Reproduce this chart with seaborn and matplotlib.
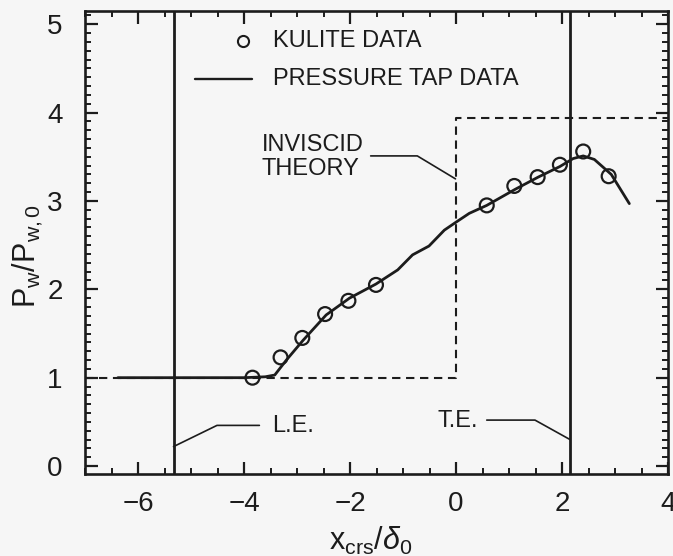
import matplotlib
matplotlib.use("Agg")
import matplotlib.pyplot as plt
from matplotlib.ticker import MultipleLocator
import seaborn as sns
import pandas as pd

# Kulite transducer readings
kulite_x = [-3.84, -3.31, -2.90, -2.47, -2.03, -1.51, 0.58, 1.10, 1.54, 1.96, 2.40, 2.88]
kulite_y = [1.00, 1.23, 1.45, 1.72, 1.87, 2.05, 2.95, 3.17, 3.27, 3.41, 3.56, 3.28]

# Pressure tap distribution
tap_x = [-6.38, -5.0, -4.0, -3.6, -3.42, -3.2, -2.89, -2.45, -2.01, -1.51, -1.1, -0.82,
         -0.51, -0.22, 0.0, 0.25, 0.58, 1.11, 1.55, 1.96, 2.21, 2.40, 2.61, 2.93, 3.27]
tap_y = [1.0, 1.0, 1.0, 1.01, 1.03, 1.2, 1.42, 1.71, 1.9, 2.06, 2.22, 2.39,
         2.49, 2.67, 2.76, 2.86, 2.95, 3.13, 3.27, 3.39, 3.48, 3.51, 3.47, 3.30, 2.97]

# Inviscid step
theory_x = [-7.0, 0.0, 0.0, 4.0]
theory_y = [1.0, 1.0, 3.94, 3.94]

# Leading / trailing edge stations
le_x = -5.33
te_x = 2.15

x_ticks = [-6, -4, -2, 0, 2, 4]
y_ticks = [0, 1, 2, 3, 4, 5]

sns.set_theme(style="ticks")
ink = "#1c1c1c"
plt.rcParams["font.family"] = ["Liberation Sans", "DejaVu Sans"]
plt.rcParams["mathtext.fontset"] = "custom"
plt.rcParams["mathtext.rm"] = "Liberation Sans"
plt.rcParams["mathtext.it"] = "Liberation Sans:italic"

fig = plt.figure(figsize=(6.73, 5.56), dpi=100, facecolor="#f6f6f6")
ax = fig.add_axes([0.1263, 0.1475, 0.8663, 0.8327])
ax.set_facecolor("#f6f6f6")

tap = pd.DataFrame({"x": tap_x, "y": tap_y})
kul = pd.DataFrame({"x": kulite_x, "y": kulite_y})
theo = pd.DataFrame({"x": theory_x, "y": theory_y})

sns.lineplot(data=theo, x="x", y="y", ax=ax, estimator=None, sort=False,
             color=ink, lw=1.5, linestyle=(0, (4.0, 2.7)))
sns.lineplot(data=tap, x="x", y="y", ax=ax, estimator=None, sort=False,
             color=ink, lw=2.0)
sns.scatterplot(data=kul, x="x", y="y", ax=ax, marker="o", s=100,
                facecolor="none", edgecolor=ink, linewidth=1.6, zorder=5)

ax.axvline(le_x, color=ink, lw=2.0)
ax.axvline(te_x, color=ink, lw=2.0)

ax.set_xlim(-7, 3.97)
ax.set_ylim(-0.09, 5.15)
ax.set_xticks(x_ticks)
ax.set_yticks(y_ticks)
ax.set_xticklabels([str(v).replace("-", "\u2212") for v in x_ticks])
ax.xaxis.set_minor_locator(MultipleLocator(0.5))
ax.yaxis.set_minor_locator(MultipleLocator(0.1))
ax.tick_params(which="major", direction="in", length=9, width=1.6, color=ink,
               top=True, right=True, labelsize=20, labelcolor=ink)
ax.tick_params(axis="x", which="major", pad=12)
ax.tick_params(axis="y", which="major", pad=16)
ax.tick_params(which="minor", direction="in", length=4.5, width=1.4, color=ink,
               top=True, right=True)
for s in ax.spines.values():
    s.set_visible(True)
    s.set_linewidth(1.9)
    s.set_color(ink)

ax.set_xlabel(r"$\mathregular{x_{crs}/}\delta_{\mathregular{0}}$", fontsize=22, color=ink)
ax.set_ylabel(r"$\mathregular{P_w/P_{w,0}}$", fontsize=22, color=ink)
ax.xaxis.set_label_coords(0.49, -0.11)
ax.yaxis.set_label_coords(-0.069, 0.47)

# Legend
ax.plot([0.271], [0.936], marker="o", ms=8, mfc="none", mec=ink, mew=1.5,
        transform=ax.transAxes, clip_on=False)
ax.text(0.322, 0.936, "KULITE DATA", transform=ax.transAxes, fontsize=17,
        va="center", ha="left", color=ink)
ax.plot([0.188, 0.286], [0.853, 0.853], color=ink, lw=1.7, transform=ax.transAxes)
ax.text(0.322, 0.853, "PRESSURE TAP DATA", transform=ax.transAxes, fontsize=17,
        va="center", ha="left", color=ink)

# Annotations
ax.text(-3.67, 3.5, "INVISCID\nTHEORY", fontsize=17, va="center", ha="left",
        color=ink, linespacing=1.1)
ax.plot([-1.61, -0.73, -0.01], [3.51, 3.51, 3.25], color=ink, lw=1.2)

ax.text(-3.47, 0.45, "L.E.", fontsize=17, va="center", ha="left", color=ink)
ax.plot([le_x, -4.51, -3.71], [0.22, 0.46, 0.46], color=ink, lw=1.2)

ax.text(0.42, 0.51, "T.E.", fontsize=17, va="center", ha="right", color=ink)
ax.plot([0.58, 1.49, te_x], [0.52, 0.52, 0.30], color=ink, lw=1.2)

fig.savefig("out.png", dpi=100, facecolor=fig.get_facecolor())
